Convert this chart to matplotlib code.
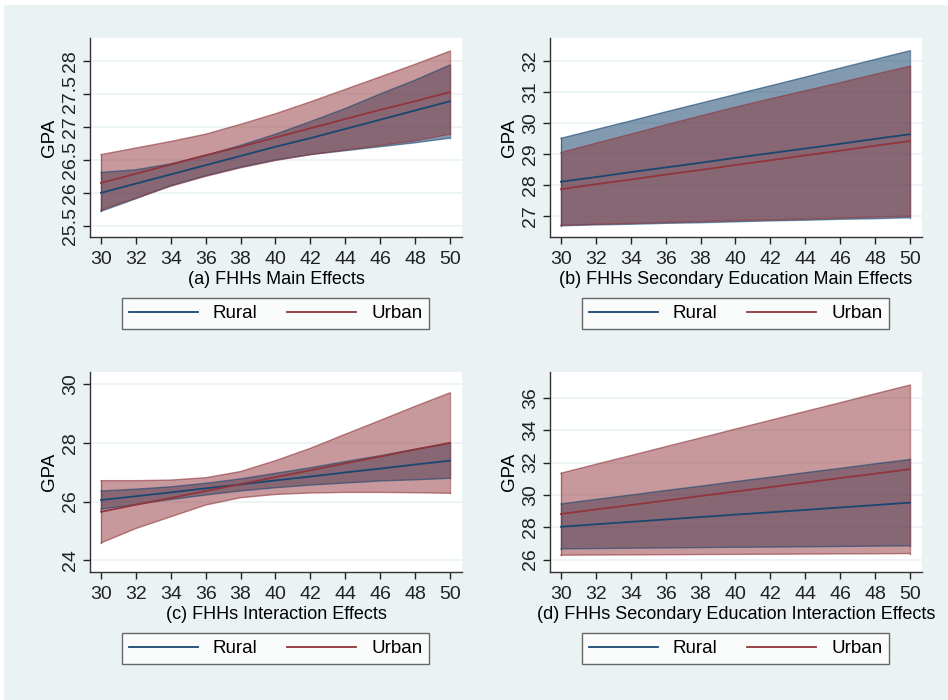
import numpy as np
import matplotlib.pyplot as plt
from matplotlib.patches import Rectangle
from matplotlib.lines import Line2D

plt.rcParams["font.family"] = ["Liberation Sans", "DejaVu Sans"]

age = [30, 32, 34, 36, 38, 40, 42, 44, 46, 48, 50]

# (a) FHHs Main Effects
a_rural = [26.00, 26.14, 26.28, 26.42, 26.56, 26.70, 26.83, 26.97, 27.11, 27.25, 27.39]
a_rural_lo = [25.72, 25.91, 26.11, 26.26, 26.39, 26.50, 26.58, 26.64, 26.70, 26.76, 26.83]
a_rural_hi = [26.31, 26.35, 26.44, 26.57, 26.72, 26.89, 27.08, 27.28, 27.50, 27.71, 27.94]
a_urban = [26.15, 26.29, 26.43, 26.57, 26.70, 26.84, 26.98, 27.12, 27.26, 27.39, 27.53]
a_urban_lo = [25.74, 25.92, 26.10, 26.25, 26.38, 26.49, 26.58, 26.65, 26.72, 26.79, 26.89]
a_urban_hi = [26.58, 26.68, 26.78, 26.89, 27.04, 27.20, 27.38, 27.57, 27.76, 27.95, 28.15]

# (b) FHHs Secondary Education Main Effects
b_rural = [28.10, 28.25, 28.41, 28.56, 28.71, 28.87, 29.02, 29.17, 29.32, 29.48, 29.63]
b_rural_lo = [26.68, 26.71, 26.73, 26.76, 26.78, 26.81, 26.84, 26.86, 26.89, 26.91, 26.94]
b_rural_hi = [29.50, 29.78, 30.06, 30.35, 30.63, 30.91, 31.19, 31.47, 31.76, 32.04, 32.32]
b_urban = [27.86, 28.02, 28.17, 28.33, 28.48, 28.64, 28.79, 28.95, 29.10, 29.26, 29.41]
b_urban_lo = [26.70, 26.73, 26.76, 26.79, 26.82, 26.85, 26.87, 26.90, 26.93, 26.96, 26.99]
b_urban_hi = [29.04, 29.34, 29.63, 29.93, 30.22, 30.50, 30.77, 31.03, 31.29, 31.56, 31.82]

# (c) FHHs Interaction Effects
c_rural = [26.05, 26.18, 26.31, 26.45, 26.58, 26.72, 26.85, 26.99, 27.12, 27.26, 27.39]
c_rural_lo = [25.74, 25.90, 26.07, 26.22, 26.36, 26.47, 26.56, 26.63, 26.70, 26.74, 26.79]
c_rural_hi = [26.36, 26.42, 26.50, 26.62, 26.77, 26.96, 27.15, 27.36, 27.56, 27.78, 27.98]
c_urban = [25.65, 25.89, 26.12, 26.36, 26.59, 26.83, 27.06, 27.30, 27.53, 27.77, 28.00]
c_urban_lo = [24.59, 25.08, 25.48, 25.88, 26.13, 26.24, 26.29, 26.31, 26.31, 26.30, 26.28]
c_urban_hi = [26.71, 26.71, 26.73, 26.81, 27.02, 27.39, 27.81, 28.29, 28.76, 29.24, 29.70]

# (d) FHHs Secondary Education Interaction Effects
d_rural = [28.03, 28.18, 28.33, 28.48, 28.63, 28.78, 28.92, 29.07, 29.22, 29.37, 29.52]
d_rural_lo = [26.66, 26.68, 26.70, 26.72, 26.74, 26.76, 26.77, 26.79, 26.81, 26.83, 26.85]
d_rural_hi = [29.44, 29.72, 29.99, 30.27, 30.54, 30.82, 31.09, 31.37, 31.64, 31.92, 32.19]
d_urban = [28.82, 29.10, 29.37, 29.65, 29.93, 30.21, 30.48, 30.76, 31.04, 31.31, 31.59]
d_urban_lo = [26.27, 26.28, 26.29, 26.30, 26.31, 26.32, 26.33, 26.34, 26.35, 26.36, 26.37]
d_urban_hi = [31.34, 31.89, 32.43, 32.98, 33.52, 34.07, 34.61, 35.16, 35.70, 36.25, 36.79]

titles = [
    "(a) FHHs Main Effects",
    "(b) FHHs Secondary Education Main Effects",
    "(c) FHHs Interaction Effects",
    "(d) FHHs Secondary Education Interaction Effects",
]
yticks = [
    [25.5, 26, 26.5, 27, 27.5, 28],
    [27, 28, 29, 30, 31, 32],
    [24, 26, 28, 30],
    [26, 28, 30, 32, 34, 36],
]
ylims = [(25.33, 28.35), (26.32, 32.73), (23.6, 30.41), (25.23, 37.6)]

panels = [
    (a_rural, a_rural_lo, a_rural_hi, a_urban, a_urban_lo, a_urban_hi),
    (b_rural, b_rural_lo, b_rural_hi, b_urban, b_urban_lo, b_urban_hi),
    (c_rural, c_rural_lo, c_rural_hi, c_urban, c_urban_lo, c_urban_hi),
    (d_rural, d_rural_lo, d_rural_hi, d_urban, d_urban_lo, d_urban_hi),
]

navy = "#1a476f"
maroon = "#90353b"
bg = "#eaf2f3"

W, H = 948, 700
fig = plt.figure(figsize=(W / 100, H / 100), dpi=100)
fig.patch.set_facecolor("white")
fig.patches.append(Rectangle((4 / W, 0), 1 - 4 / W, 1 - 5 / H, transform=fig.transFigure,
                             facecolor=bg, edgecolor="none", zorder=-10))

# axes boxes in pixels: left, top, right, bottom
boxes = [(90, 38, 462, 237), (550, 38, 922, 237), (90, 372, 462, 572), (550, 372, 922, 572)]
leg_boxes = [(122, 297, 429, 330), (582, 297, 889, 330), (122, 632, 429, 665), (582, 632, 889, 665)]

for i in range(4):
    l, t, r, b = boxes[i]
    ax = fig.add_axes([l / W, (H - b) / H, (r - l) / W, (b - t) / H])
    ax.set_facecolor("white")
    ru, ru_lo, ru_hi, ur, ur_lo, ur_hi = panels[i]

    ax.fill_between(age, ru_lo, ru_hi, facecolor=navy, alpha=0.55, edgecolor="none", zorder=2)
    ax.fill_between(age, ur_lo, ur_hi, facecolor=maroon, alpha=0.5, edgecolor="none", zorder=3)
    for lo, hi, c in [(ru_lo, ru_hi, navy), (ur_lo, ur_hi, maroon)]:
        ax.plot(age, lo, color=c, lw=1, alpha=0.6, zorder=4)
        ax.plot(age, hi, color=c, lw=1, alpha=0.6, zorder=4)
        ax.plot([age[0], age[0]], [lo[0], hi[0]], color=c, lw=1, alpha=0.6, zorder=4)
        ax.plot([age[-1], age[-1]], [lo[-1], hi[-1]], color=c, lw=1, alpha=0.6, zorder=4)
    ax.plot(age, ru, color=navy, lw=1.3, zorder=5)
    ax.plot(age, ur, color=maroon, lw=1.3, zorder=5)

    ax.set_xlim(29.37, 50.69)
    ax.set_ylim(*ylims[i])
    ax.set_xticks(range(30, 51, 2))
    ax.set_yticks(yticks[i])
    ax.set_yticklabels([f"{v:g}" for v in yticks[i]], rotation=90, va="center")
    ax.tick_params(labelsize=14, colors="#222222", length=5, width=1, pad=3)
    ax.tick_params(axis="x", pad=5)
    ax.yaxis.grid(True, color=bg, lw=1.2)
    ax.set_axisbelow(True)
    for s in ["top", "right"]:
        ax.spines[s].set_visible(False)
    for s in ["left", "bottom"]:
        ax.spines[s].set_color("#333333")
        ax.spines[s].set_linewidth(1)
    ax.set_ylabel("GPA", fontsize=13.5, labelpad=3)
    ax.set_xlabel(titles[i], fontsize=13, labelpad=2)

    ll, lt, lr, lb = leg_boxes[i]
    handles = [Line2D([], [], color=navy, lw=1.3), Line2D([], [], color=maroon, lw=1.3)]
    leg = fig.legend(handles, ["Rural", "Urban"], ncol=2, loc="center", mode="expand",
                     bbox_to_anchor=(ll / W, (H - lb) / H, (lr - ll) / W, (lb - lt) / H),
                     bbox_transform=fig.transFigure, fontsize=13.5, frameon=True,
                     fancybox=False, handlelength=3.7, handletextpad=0.8,
                     borderpad=0.35, borderaxespad=0, columnspacing=2.5)
    leg.get_frame().set_edgecolor("#444444")
    leg.get_frame().set_linewidth(1)

fig.savefig("out.png", dpi=100, facecolor=fig.get_facecolor())
